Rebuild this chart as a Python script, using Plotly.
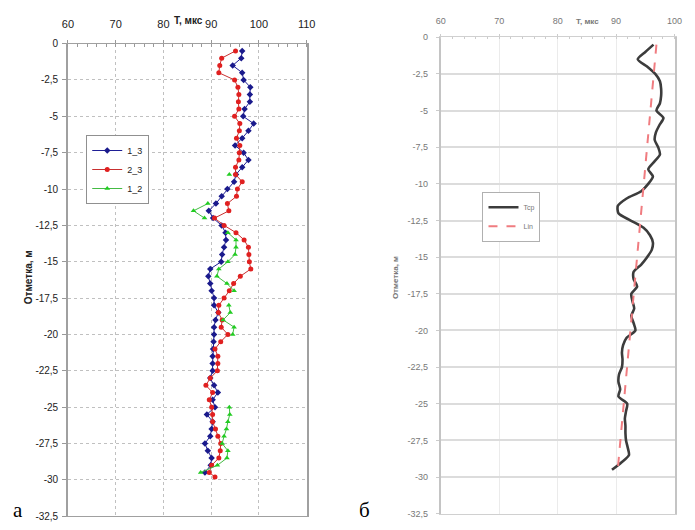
import plotly.graph_objects as go

# ---------------- data ----------------
depth = [-0.5, -1.0, -1.5, -2.0, -2.5, -3.0, -3.5, -4.0, -4.5, -5.0,
         -5.5, -6.0, -6.5, -7.0, -7.5, -8.0, -8.5, -9.0, -9.5, -10.0,
         -10.5, -11.0, -11.5, -12.0, -12.5, -13.0, -13.5, -14.0, -14.5, -15.0,
         -15.5, -16.0, -16.5, -17.0, -17.5, -18.0, -18.5, -19.0, -19.5, -20.0,
         -20.5, -21.0, -21.5, -22.0, -22.5, -23.0, -23.5, -24.0, -24.5, -25.0,
         -25.5, -26.0, -26.5, -27.0, -27.5, -28.0, -28.5, -29.0, -29.5]

t_1_3 = [96.5, 96.3, 94.5, 96.5, 96.8, 98.2, 98.1, 98.1, 97.0, 96.7,
         98.9, 97.8, 96.5, 95.0, 96.8, 97.8, 96.5, 95.2, 94.8, 93.4,
         92.2, 91.0, 89.5, 90.4, 92.2, 93.0, 93.1, 92.7, 92.3, 92.1,
         89.8, 89.4, 89.8, 90.1, 90.6, 90.6, 91.5, 90.9, 90.6, 90.6,
         90.5, 90.4, 90.3, 90.3, 90.3, 89.8, 90.6, 91.4, 90.3, 90.8,
         89.1, 90.3, 90.1, 89.8, 88.7, 89.3, 90.1, 89.9, 88.7]

depth_2_3 = depth + [-29.8]
t_2_3 = [95.1, 92.2, 91.8, 91.6, 94.9, 95.6, 95.8, 95.7, 95.8, 94.9,
         96.0, 95.9, 95.3, 96.0, 95.9, 95.8, 95.1, 95.1, 96.5, 95.5,
         95.3, 93.4, 93.7, 90.7, 92.7, 95.2, 96.9, 97.8, 97.9, 98.0,
         98.3, 96.1, 94.7, 93.8, 92.7, 91.6, 91.5, 92.3, 92.1, 93.5,
         92.0, 90.8, 91.4, 91.4, 91.3, 89.8, 88.9, 90.3, 89.6, 90.1,
         90.3, 90.3, 90.9, 91.4, 92.0, 91.9, 91.6, 90.1, 89.6, 90.8]

t_1_2 = [None, None, None, None, None, None, None, None, None, None,
         None, None, None, None, None, None, None, 93.8, None, None,
         None, 89.3, 86.3, 88.6, None, 93.5, 95.2, 95.2, 95.0, 93.5,
         91.6, 91.2, 93.3, 94.8, None, 93.7, 94.0, 92.5, 94.8, 94.5,
         None, None, None, None, None, None, None, None, None, 93.8,
         93.9, 93.5, 93.2, 92.7, 92.3, 93.5, 93.3, 91.3, 87.8]

t_cp = [96.4, 95.0, 93.7, 95.3, 96.7, 97.5, 97.7, 97.7, 97.5, 96.9,
        98.1, 97.4, 96.8, 96.6, 97.2, 97.5, 96.5, 95.5, 96.3, 95.5,
        94.3, 91.8, 90.3, 90.4, 92.5, 94.7, 95.8, 96.3, 96.1, 95.3,
        94.3, 93.0, 93.0, 93.6, 92.6, 92.8, 93.1, 92.6, 93.0, 93.3,
        91.8, 91.2, 91.0, 91.1, 91.0, 90.5, 90.4, 90.7, 90.4, 91.9,
        91.7, 91.5, 91.6, 91.6, 91.7, 92.0, 92.2, 90.9, 89.3]

lin_depth = [-0.5, -29.85]
lin_t = [96.9, 90.2]

x_ticks = [60, 70, 80, 90, 100, 110]
y_ticks = [0, -2.5, -5, -7.5, -10, -12.5, -15, -17.5, -20, -22.5, -25, -27.5, -30, -32.5]
y_tick_labels = ["0", "-2,5", "-5", "-7,5", "-10", "-12,5", "-15", "-17,5", "-20",
                 "-22,5", "-25", "-27,5", "-30", "-32,5"]

# ---------------- figure ----------------
W, H = 695, 530
fig = go.Figure()

fig.add_trace(go.Scatter(x=t_1_3, y=depth, name="1_3", mode="lines+markers",
                         line=dict(color="#1f1f96", width=1),
                         marker=dict(symbol="diamond", size=5, color="#1a1a8c"),
                         xaxis="x", yaxis="y", legend="legend"))
fig.add_trace(go.Scatter(x=t_2_3, y=depth_2_3, name="2_3", mode="lines+markers",
                         line=dict(color="#c83030", width=1),
                         marker=dict(symbol="circle", size=5, color="#e02020"),
                         xaxis="x", yaxis="y", legend="legend"))
fig.add_trace(go.Scatter(x=t_1_2, y=depth, name="1_2", mode="lines+markers",
                         line=dict(color="#44bb44", width=1),
                         marker=dict(symbol="triangle-up", size=5, color="#22cc22"),
                         connectgaps=False,
                         xaxis="x", yaxis="y", legend="legend"))

fig.add_trace(go.Scatter(x=t_cp, y=depth, name="Tcp", mode="lines",
                         line=dict(color="#3c3c3c", width=2.6, shape="spline", smoothing=0.7),
                         xaxis="x2", yaxis="y2", legend="legend2"))
fig.add_trace(go.Scatter(x=lin_t, y=lin_depth, name="Lin", mode="lines",
                         line=dict(color="#f07c80", width=2, dash="dash"),
                         xaxis="x2", yaxis="y2", legend="legend2"))

font_sans = "Liberation Sans, Arial, sans-serif"


def ann(text, x, y, size, color, angle=0, family=font_sans):
    return dict(text=text, x=x / W, y=1 - y / H, xref="paper", yref="paper",
                xanchor="center", yanchor="middle", showarrow=False, textangle=angle,
                font=dict(size=size, color=color, family=family))


fig.update_layout(
    width=W, height=H,
    margin=dict(l=0, r=0, t=0, b=0),
    paper_bgcolor="white", plot_bgcolor="white",
    font=dict(family=font_sans, size=11, color="#222"),
    showlegend=True,
    xaxis=dict(domain=[63.3 / W, 307.3 / W], range=[60, 110], side="top", anchor="y",
               tickvals=x_ticks, ticks="outside", ticklen=3, tickcolor="#999",
               ticklabelstandoff=7,
               showgrid=True, gridcolor="#c0c0c0", griddash="dot", gridwidth=1,
               showline=True, linecolor="#a0a0a0", linewidth=1, mirror=True,
               zeroline=False, tickfont=dict(size=11, color="#222"),
               minor=dict(dtick=2, ticks="inside", ticklen=3, tickcolor="#999", showgrid=False)),
    yaxis=dict(domain=[1 - 522 / H, 1 - 38.5 / H], range=[-32.5, 0], anchor="x",
               tickvals=y_ticks, ticktext=y_tick_labels, ticks="outside", ticklen=4,
               tickcolor="#999", ticklabelstandoff=2,
               showgrid=True, gridcolor="#c0c0c0", griddash="dot", gridwidth=1,
               showline=True, linecolor="#a0a0a0", linewidth=1.5, mirror=True,
               zeroline=False, tickfont=dict(size=10, color="#222")),
    xaxis2=dict(domain=[444.3 / W, 683.3 / W], range=[60, 100], side="top", anchor="y2",
                tickvals=[60, 70, 80, 90, 100], ticks="outside", ticklen=2, tickcolor="#ccc",
                ticklabelstandoff=7,
                showgrid=True, gridcolor="#ebebeb", gridwidth=1,
                showline=True, linecolor="#d0d0d0", linewidth=1, mirror=True,
                zeroline=False, tickfont=dict(size=9, color="#777"),
                minor=dict(dtick=2, ticks="inside", ticklen=2, tickcolor="#ccc", showgrid=False)),
    yaxis2=dict(domain=[1 - 519.5 / H, 1 - 32 / H], range=[-32.5, 0], anchor="x2",
                tickvals=y_ticks, ticktext=y_tick_labels, ticks="outside", ticklen=3,
                tickcolor="#ccc", ticklabelstandoff=6,
                showgrid=True, gridcolor="#dcdcdc", gridwidth=1.5,
                showline=True, linecolor="#c4c4c4", linewidth=2, mirror=True,
                zeroline=False, tickfont=dict(size=9, color="#777")),
    legend=dict(x=82 / W, y=1 - 132 / H, xanchor="left", yanchor="top",
                bgcolor="white", bordercolor="#909090", borderwidth=1,
                font=dict(size=9, color="#222"), itemwidth=30, tracegroupgap=0),
    legend2=dict(x=487 / W, y=1 - 190 / H, xanchor="left", yanchor="top",
                 bgcolor="white", bordercolor="#b0b0b0", borderwidth=1,
                 font=dict(size=7, color="#777"), itemwidth=30, tracegroupgap=0),
    annotations=[
        ann("<b>T, мкс</b>", 187, 15, 10, "#222"),
        ann("<b>Отметка, м</b>", 23, 278, 10, "#222", angle=-90),
        ann("<b>T, мкс</b>", 594, 16, 8, "#777"),
        ann("<b>Отметка, м</b>", 398, 278, 8, "#777", angle=-90),
        ann("а", 12, 516, 21, "#000", family="Liberation Serif, serif"),
        ann("б", 366, 516, 21, "#000", family="Liberation Serif, serif"),
    ],
)

fig.write_html("out.html")
